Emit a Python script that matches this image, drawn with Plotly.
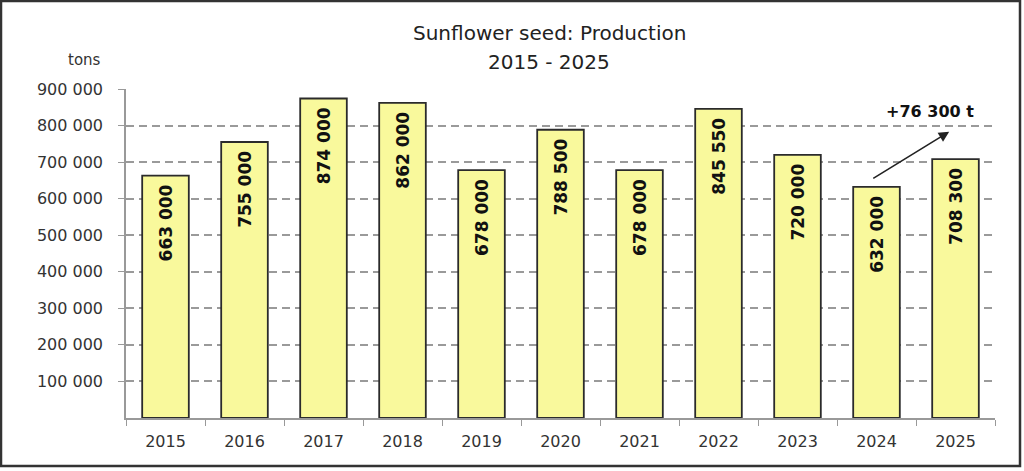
import plotly.graph_objects as go

years = ["2015", "2016", "2017", "2018", "2019", "2020", "2021", "2022", "2023", "2024", "2025"]
production = [663000, 755000, 874000, 862000, 678000, 788500, 678000, 845550, 720000, 632000, 708300]
y_ticks = [100000, 200000, 300000, 400000, 500000, 600000, 700000, 800000, 900000]
change_label = "+76 300 t"
title_line1 = "Sunflower seed: Production"
title_line2 = "2015 - 2025"
unit_label = "tons"

FONT = "DejaVu Sans"
# plot area in pixels
L, R, T, B = 126, 995, 89, 418
PW, PH = R - L, B - T


def px(xp):
    return (xp - L) / PW


def py(yp):
    return (B - yp) / PH


fig = go.Figure()
fig.add_trace(go.Bar(
    x=years,
    y=production,
    marker=dict(color="#F9F99C", line=dict(color="#2b2b2b", width=1.8)),
    texttemplate="%{y:,.0f}\u00a0",
    textposition="inside",
    insidetextanchor="end",
    textangle=-90,
    textfont=dict(family=FONT, size=17, color="#111111", weight="bold"),
    hoverinfo="skip",
))

fig.update_layout(
    width=1024, height=471,
    margin=dict(l=L, r=1024 - R, t=T, b=471 - B),
    paper_bgcolor="white",
    plot_bgcolor="white",
    separators=". ",
    bargap=0.41,
    showlegend=False,
    font=dict(family=FONT, color="#333333"),
)

fig.update_xaxes(
    type="category",
    tickson="boundaries",
    ticks="outside", ticklen=6, tickcolor="#999999",
    showline=True, linecolor="#999999", linewidth=1.5,
    tickfont=dict(family=FONT, size=16, color="#333333"),
    ticklabelstandoff=8,
    showgrid=False,
)
fig.update_yaxes(
    range=[0, 900000],
    tickvals=y_ticks,
    tickformat=",.0f",
    ticks="outside", ticklen=6, tickcolor="#999999",
    showline=True, linecolor="#999999", linewidth=1.5,
    showgrid=True, gridcolor="#9a9a9a", gridwidth=1.5, griddash="8px,5px",
    tickfont=dict(family=FONT, size=16, color="#333333"),
    ticklabelstandoff=12,
    zeroline=False,
)

# title lines
fig.add_annotation(text=title_line1, xref="paper", yref="paper", x=px(549), y=py(33),
                   xanchor="center", yanchor="middle", showarrow=False,
                   font=dict(family=FONT, size=20, color="#222222"))
fig.add_annotation(text=title_line2, xref="paper", yref="paper", x=px(549), y=py(62),
                   xanchor="center", yanchor="middle", showarrow=False,
                   font=dict(family=FONT, size=20, color="#222222"))

# unit label
fig.add_annotation(text=unit_label, xref="paper", yref="paper", x=px(103), y=py(60),
                   xanchor="right", yanchor="middle", showarrow=False,
                   font=dict(family=FONT, size=15, color="#333333"))

# arrow from 2024 to 2025
fig.add_annotation(x=9.92, y=783000, ax=8.94, ay=653000, xref="x", yref="y",
                   axref="x", ayref="y", text="", showarrow=True,
                   arrowhead=2, arrowsize=1.3, arrowwidth=1.6, arrowcolor="#222222")
fig.add_annotation(x=9.68, y=838000, xref="x", yref="y", text=change_label,
                   showarrow=False, font=dict(family=FONT, size=16, color="#111111", weight="bold"))

# outer frame
fig.add_shape(type="rect", xref="paper", yref="paper",
              x0=px(1), x1=px(1020), y0=py(466), y1=py(1),
              line=dict(color="#333333", width=2.5), fillcolor="rgba(0,0,0,0)", layer="below")

fig.write_html("out.html",
               config={"displayModeBar": False},
               post_script="document.body.style.margin='0';document.body.style.overflow='hidden';")
